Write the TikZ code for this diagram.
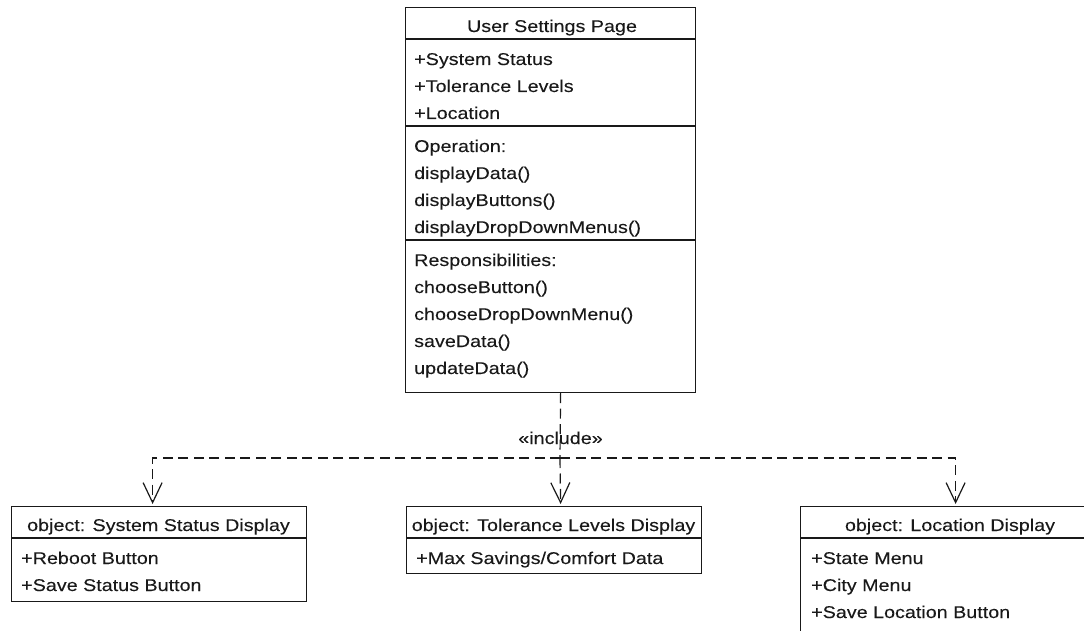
\documentclass[tikz,border=0pt]{standalone}
\usepackage{fontspec}
\setmainfont{Liberation Sans}[FakeStretch=1.16, FakeBold=0.08]
\usetikzlibrary{arrows.meta}

\tikzset{
  classbox/.style={draw=black!90, line width=1.2pt, inner sep=0pt, anchor=north west},
  divider/.style={draw=black!90, line width=1.2pt},
  row/.style={anchor=base west, inner sep=0pt, text=black!90, font=\fontsize{17}{20}\selectfont},
  title/.style={anchor=base, inner sep=0pt, text=black!90, font=\fontsize{17}{20}\selectfont},
  dep/.style={draw=black!90, line width=1.2pt, dash pattern=on 10pt off 5.5pt},
  deparrow/.style={dep, -{Straight Barb[length=20pt, width=19pt, line width=1.2pt]}},
}

\begin{document}
\begin{tikzpicture}[x=1pt, y=-1pt]
  \useasboundingbox (0,0) rectangle (1084,631);
  \clip (0,0) rectangle (1084,631);

  % ---- class: User Settings Page ----
  \node[classbox, minimum width=290pt, minimum height=385pt] (main) at (405,7) {};
  \draw[divider] (main.west |- 0,39)  -- (main.east |- 0,39);
  \draw[divider] (main.west |- 0,126) -- (main.east |- 0,126);
  \draw[divider] (main.west |- 0,240) -- (main.east |- 0,240);
  \node[title] (mainT) at (552,32) {User Settings Page};
  \node[row] (ma1) at (414,65)  {+System Status};
  \node[row] (ma2) at (414,92)  {+Tolerance Levels};
  \node[row] (ma3) at (414,119) {+Location};
  \node[row] (mo0) at (414,152) {Operation:};
  \node[row] (mo1) at (414,179) {displayData()};
  \node[row] (mo2) at (414,206) {displayButtons()};
  \node[row] (mo3) at (414,233) {displayDropDownMenus()};
  \node[row] (mr0) at (414,266) {Responsibilities:};
  \node[row] (mr1) at (414,293) {chooseButton()};
  \node[row] (mr2) at (414,320) {chooseDropDownMenu()};
  \node[row] (mr3) at (414,347) {saveData()};
  \node[row] (mr4) at (414,374) {updateData()};

  % ---- object: System Status Display ----
  \node[classbox, minimum width=295pt, minimum height=95pt] (sys) at (11,506) {};
  \draw[divider] (sys.west |- 0,538) -- (sys.east |- 0,538);
  \node[title] (sysT) at (158.5,531) {object: System Status Display};
  \node[row] (sy1) at (21,564) {+Reboot Button};
  \node[row] (sy2) at (21,591) {+Save Status Button};

  % ---- object: Tolerance Levels Display ----
  \node[classbox, minimum width=295pt, minimum height=67pt] (tol) at (406,506) {};
  \draw[divider] (tol.west |- 0,538) -- (tol.east |- 0,538);
  \node[title] (tolT) at (553.5,531) {object: Tolerance Levels Display};
  \node[row] (to1) at (416,564) {+Max Savings/Comfort Data};

  % ---- object: Location Display ----
  \node[classbox, minimum width=300pt, minimum height=150pt] (loc) at (800,506) {};
  \draw[divider] (loc.west |- 0,538) -- (loc.east |- 0,538);
  \node[title] (locT) at (950,531) {object: Location Display};
  \node[row] (lo1) at (811,564) {+State Menu};
  \node[row] (lo2) at (811,591) {+City Menu};
  \node[row] (lo3) at (811,618) {+Save Location Button};

  % ---- include dependencies ----
  \coordinate (hub) at (560,458);
  \node[title] (inc) at (560.5,444) {«include»};
  \draw[dep] ([xshift=10pt]main.south) -- (hub);
  \draw[deparrow] (hub) -- ([xshift=6.5pt, yshift=2pt]tol.north);
  \draw[deparrow] (hub) -| ([xshift=-6.5pt, yshift=2pt]sys.north);
  \draw[deparrow] (hub) -| ([xshift=5pt, yshift=2pt]loc.north);
\end{tikzpicture}
\end{document}
